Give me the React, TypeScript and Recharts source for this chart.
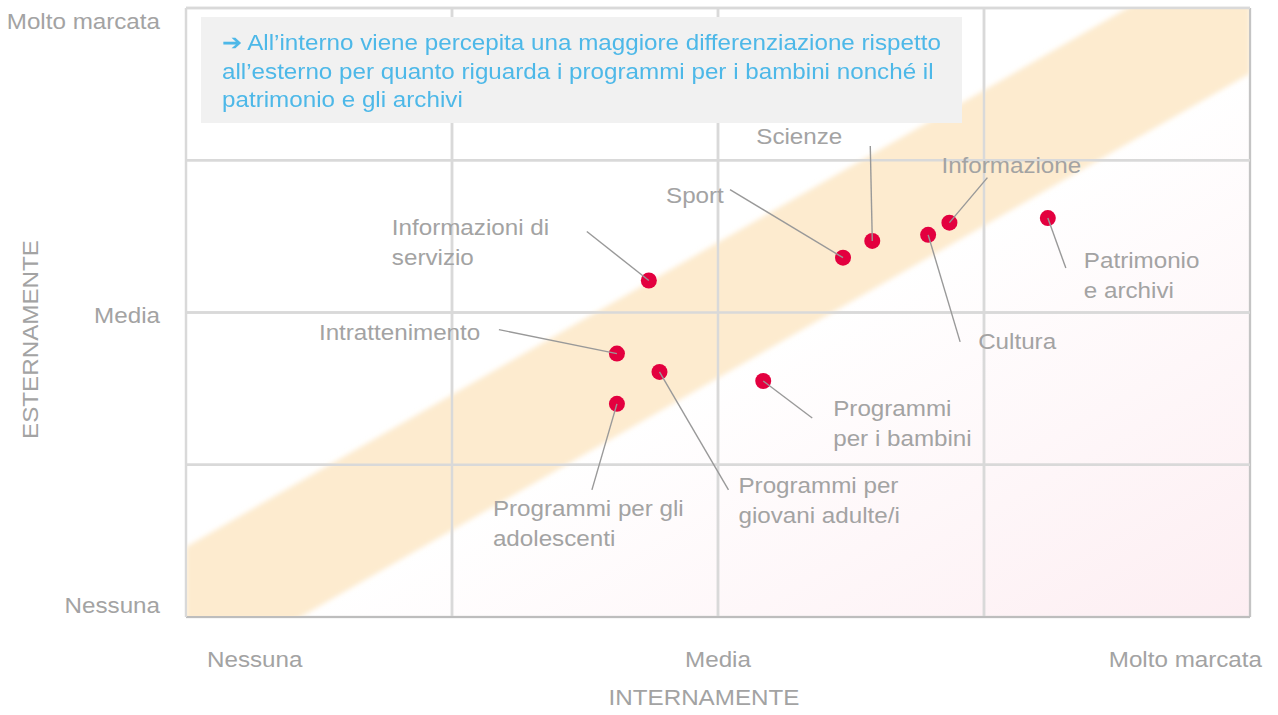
import React from 'react';
import { Area, CartesianGrid, ComposedChart, ReferenceLine, Scatter, XAxis, YAxis } from 'recharts';

// Posizionamento percepito dei generi di programma: internamente (x) vs esternamente (y).
const NAMES = [
  'Informazioni di servizio',
  'Intrattenimento',
  'Programmi per giovani adulte/i',
  'Programmi per gli adolescenti',
  'Programmi per i bambini',
  'Sport',
  'Scienze',
  'Cultura',
  'Informazione',
  'Patrimonio e archivi',
];
const INTERNAMENTE = [1.74, 1.62, 1.78, 1.62, 2.17, 2.47, 2.58, 2.79, 2.87, 3.24];
const ESTERNAMENTE = [2.21, 1.73, 1.61, 1.4, 1.55, 2.36, 2.47, 2.51, 2.59, 2.62];

const AXIS_TICKS = [0, 1, 2, 3, 4];
const TICK_LABELS: Record<number, string> = { 0: 'Nessuna', 2: 'Media', 4: 'Molto marcata' };

// fascia diagonale (zona di concordanza)
const BAND_X = [0, 4];
const BAND_LOW = [-0.43, 3.57];
const BAND_HIGH = [0.46, 4.46];

const NOTE_LINES = [
  '\u2794 All\u2019interno viene percepita una maggiore differenziazione rispetto',
  'all\u2019esterno per quanto riguarda i programmi per i bambini nonché il',
  'patrimonio e gli archivi',
];

// etichette: testo su più righe + offset (px) di testo e linea guida rispetto al punto
const LABEL_LAYOUT: Record<string, { lines: string[]; tx: number; ty: number; lx: number; ly: number }> = {
  'Informazioni di servizio': { lines: ['Informazioni di', 'servizio'], tx: -257, ty: -53, lx: -62, ly: -49 },
  Intrattenimento: { lines: ['Intrattenimento'], tx: -298, ty: -21, lx: -118, ly: -24 },
  'Programmi per giovani adulte/i': { lines: ['Programmi per', 'giovani adulte/i'], tx: 79, ty: 114, lx: 69, ly: 118 },
  'Programmi per gli adolescenti': { lines: ['Programmi per gli', 'adolescenti'], tx: -124, ty: 105, lx: -25, ly: 86 },
  'Programmi per i bambini': { lines: ['Programmi', 'per i bambini'], tx: 70, ty: 27, lx: 49, ly: 37 },
  Sport: { lines: ['Sport'], tx: -177, ty: -62, lx: -113, ly: -68 },
  Scienze: { lines: ['Scienze'], tx: -116, ty: -104, lx: -2, ly: -95 },
  Cultura: { lines: ['Cultura'], tx: 50, ty: 107, lx: 32, ly: 107 },
  Informazione: { lines: ['Informazione'], tx: -8, ty: -57, lx: 38, ly: -45 },
  'Patrimonio e archivi': { lines: ['Patrimonio', 'e archivi'], tx: 36, ty: 42, lx: 18, ly: 50 },
};

const FONT = '"Liberation Sans", Arial, sans-serif';
const TEXT = '#a3a3a3';
const GRID = '#d9d9d9';
const DOT = '#e3003f';
const BAND = '#fdebcf';
const NOTE = '#4db8e8';
const SX = 1.1; // il testo dell'originale è un po' più largo

const points = NAMES.map((name, i) => ({ name, x: INTERNAMENTE[i], y: ESTERNAMENTE[i] }));
const band = BAND_X.map((x, i) => ({ x, band: [BAND_LOW[i], BAND_HIGH[i]] }));

function SText({ x, y, anchor = 'start', rotate = 0, lines }: { x: number; y: number; anchor?: string; rotate?: number; lines: string[] }) {
  return (
    <g transform={`translate(${x} ${y}) rotate(${rotate}) scale(${SX} 1)`}>
      <text x={0} y={0} textAnchor={anchor} fill={TEXT} fontSize={22} fontFamily={FONT}>
        {lines.map((s, i) => (
          <tspan key={i} x={0} dy={i === 0 ? 0 : 30}>
            {s}
          </tspan>
        ))}
      </text>
    </g>
  );
}

function PointShape(props: any) {
  const { cx, cy, payload } = props;
  const l = LABEL_LAYOUT[payload.name];
  return (
    <g>
      <circle cx={cx} cy={cy} r={8} fill={DOT} />
      <line x1={cx} y1={cy} x2={cx + l.lx} y2={cy + l.ly} stroke="#999" strokeWidth={1.4} />
      <SText x={cx + l.tx} y={cy + l.ty + 7.5} lines={l.lines} />
    </g>
  );
}

function XTick({ x, y, payload }: any) {
  const label = TICK_LABELS[payload.value];
  if (!label) return null;
  const anchor = payload.value === 0 ? 'start' : payload.value === 4 ? 'end' : 'middle';
  const dx = payload.value === 0 ? 21 : payload.value === 4 ? 12 : 0;
  return <SText x={x + dx} y={y + 50} anchor={anchor} lines={[label]} />;
}

function YTick({ x, y, payload }: any) {
  const label = TICK_LABELS[payload.value];
  if (!label) return null;
  const dy = payload.value === 4 ? 19.5 : payload.value === 0 ? -4.5 : 10.5;
  return <SText x={x - 26} y={y + dy} anchor="end" lines={[label]} />;
}

export default function App() {
  return (
    <div style={{ position: 'absolute', left: 0, top: 0, width: 1278, height: 715, background: '#fff' }}>
      <ComposedChart width={1278} height={715} data={band} margin={{ top: 8, right: 28, bottom: 0, left: 0 }}>
        <defs>
          <linearGradient id="bgFill" x1="0.55" y1="0.55" x2="1" y2="1">
            <stop offset="0%" stopColor="#ffffff" />
            <stop offset="100%" stopColor="#fdeef2" />
          </linearGradient>
          <filter id="soft" x="-5%" y="-5%" width="110%" height="110%">
            <feGaussianBlur stdDeviation="2.5" />
          </filter>
        </defs>
        <CartesianGrid fill="url(#bgFill)" fillOpacity={1} stroke={GRID} strokeWidth={2.5} />
        <XAxis
          type="number"
          dataKey="x"
          domain={[0, 4]}
          ticks={AXIS_TICKS}
          allowDataOverflow
          height={98}
          tickSize={0}
          tickMargin={0}
          tick={<XTick />}
          axisLine={{ stroke: '#bdbdbd', strokeWidth: 2 }}
          label={{
            content: ({ viewBox }: any) => (
              <SText x={viewBox.x + viewBox.width / 2 - 14} y={viewBox.y + 88} anchor="middle" lines={['INTERNAMENTE']} />
            ),
          }}
        />
        <YAxis
          type="number"
          dataKey="y"
          domain={[0, 4]}
          ticks={AXIS_TICKS}
          allowDataOverflow
          width={186}
          tickSize={0}
          tickMargin={0}
          tick={<YTick />}
          axisLine={{ stroke: GRID, strokeWidth: 2 }}
          label={{
            content: ({ viewBox }: any) => (
              <SText x={38} y={viewBox.y + viewBox.height / 2 + 27} anchor="middle" rotate={-90} lines={['ESTERNAMENTE']} />
            ),
          }}
        />
        <Area
          dataKey="band"
          type="linear"
          stroke="none"
          fill={BAND}
          fillOpacity={1}
          filter="url(#soft)"
          isAnimationActive={false}
          activeDot={false}
          dot={false}
        />
        <ReferenceLine x={1} stroke={GRID} strokeWidth={2.5} />
        <ReferenceLine x={2} stroke={GRID} strokeWidth={2.5} />
        <ReferenceLine x={3} stroke={GRID} strokeWidth={2.5} />
        <ReferenceLine x={4} stroke="#c4c4c4" strokeWidth={2} />
        <ReferenceLine y={1} stroke={GRID} strokeWidth={2.5} />
        <ReferenceLine y={2} stroke={GRID} strokeWidth={2.5} />
        <ReferenceLine y={3} stroke={GRID} strokeWidth={2.5} />
        <ReferenceLine y={4} stroke={GRID} strokeWidth={2.5} />
        <Scatter data={points} dataKey="y" shape={<PointShape />} isAnimationActive={false} />
      </ComposedChart>
      <div
        style={{
          position: 'absolute',
          left: 201,
          top: 17,
          width: 761,
          height: 106,
          boxSizing: 'border-box',
          background: '#f1f1f1',
          padding: '12px 0 0 21px',
          color: NOTE,
          fontFamily: FONT,
          fontSize: 22,
          lineHeight: '28.5px',
          whiteSpace: 'nowrap',
        }}
      >
        <div style={{ transform: `scaleX(${SX})`, transformOrigin: 'left top' }}>
          {NOTE_LINES.map((s, i) => (
            <div key={i}>{s}</div>
          ))}
        </div>
      </div>
    </div>
  );
}
